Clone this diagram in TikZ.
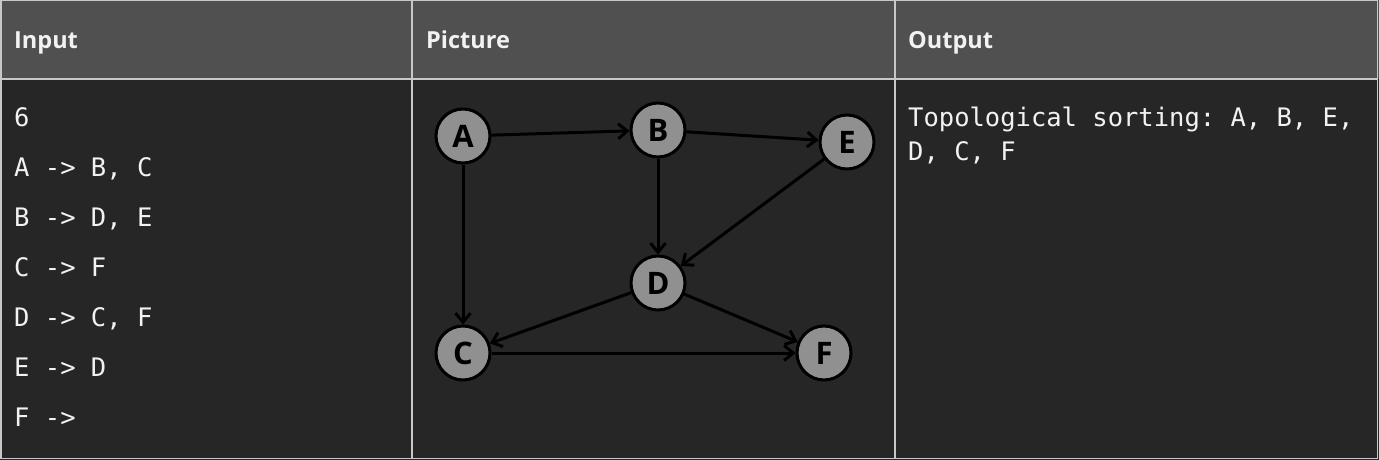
\documentclass[tikz,border=0pt]{standalone}
\usepackage{fontspec}
\setmainfont{Open Sans}
\setmonofont{DejaVu Sans Mono}
\usetikzlibrary{arrows.meta}
\definecolor{headbg}{HTML}{505050}
\definecolor{bodybg}{HTML}{262626}
\definecolor{gridc}{HTML}{C8C8C8}
\definecolor{nodefill}{HTML}{909090}
\definecolor{txt}{HTML}{F2F2F2}
\tikzset{
  headtext/.style={anchor=base west, inner sep=0pt, text=txt, font=\fontsize{23.5}{27}\selectfont\bfseries},
  monotext/.style={anchor=base west, inner sep=0pt, text=txt, font=\fontsize{25.5}{30}\selectfont\ttfamily},
  vertex/.style={circle, draw=black, line width=3pt, fill=nodefill, minimum size=54pt, inner sep=0pt, font=\fontsize{31}{34}\selectfont\bfseries, text=black},
  edge/.style={draw=black, line width=3pt, -{Straight Barb[length=9pt,width=15pt]}},
  grid/.style={draw=gridc, line width=1.2pt}
}
\begin{document}
\begin{tikzpicture}[x=1pt,y=-1pt]
\useasboundingbox (0,0) rectangle (1379,460);
\fill[headbg] (0,0) rectangle (1379,79);
\fill[bodybg] (0,79) rectangle (1379,460);
\draw[grid] (1,0.6) rectangle (1377.5,458.5);
\draw[grid] (1,79) -- (1377.5,79);
\draw[grid] (412,0.6) -- (412,458.5);
\draw[grid] (895,0.6) -- (895,458.5);
% headers
\node[headtext] (hin) at (14,48.5) {Input};
\node[headtext] (hpic) at (426,48.5) {Picture};
\node[headtext] (hout) at (908,48.5) {Output};
% input lines
\node[monotext] (l0) at (14,126) {6};
\node[monotext] (l1) at (14,176) {A -> B, C};
\node[monotext] (l2) at (14,226) {B -> D, E};
\node[monotext] (l3) at (14,276) {C -> F};
\node[monotext] (l4) at (14,326) {D -> C, F};
\node[monotext] (l5) at (14,376) {E -> D};
\node[monotext] (l6) at (14,426) {F ->};
% output
\node[monotext] (o1) at (908,126) {Topological sorting: A, B, E,};
\node[monotext] (o2) at (908,160) {D, C, F};
% graph
\node[vertex] (A) at (463,136) {A};
\node[vertex] (B) at (658,130) {B};
\node[vertex] (E) at (847,142) {E};
\node[vertex] (D) at (658,283) {D};
\node[vertex] (C) at (463,353) {C};
\node[vertex] (F) at (824,353) {F};
\draw[edge] (A) -- (B);
\draw[edge] (A) -- (C);
\draw[edge] (B) -- (E);
\draw[edge] (B) -- (D);
\draw[edge] (E) -- (D);
\draw[edge] (D) -- (C);
\draw[edge] (D) -- (F);
\draw[edge] (C) -- (F);
\end{tikzpicture}
\end{document}
